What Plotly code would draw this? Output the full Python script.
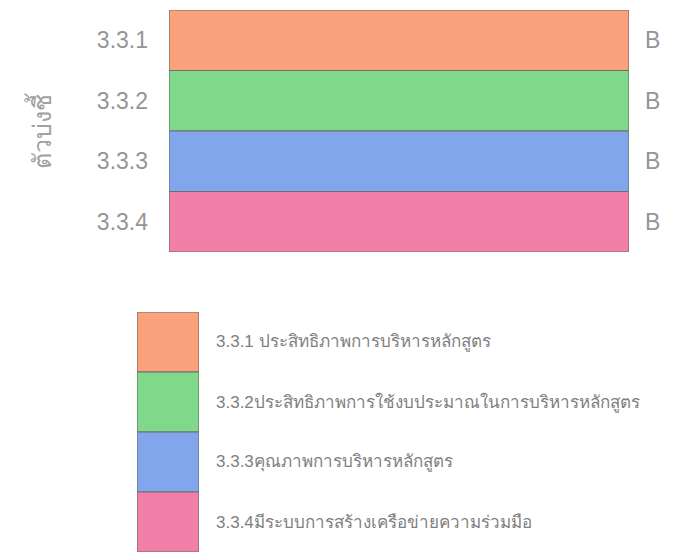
import plotly.graph_objects as go

categories = ["3.3.1", "3.3.2", "3.3.3", "3.3.4"]
values = [1, 1, 1, 1]
grades = ["B", "B", "B", "B"]
legend_labels = [
    "3.3.1 ประสิทธิภาพการบริหารหลักสูตร",
    "3.3.2ประสิทธิภาพการใช้งบประมาณในการบริหารหลักสูตร",
    "3.3.3คุณภาพการบริหารหลักสูตร",
    "3.3.4มีระบบการสร้างเครือข่ายความร่วมมือ",
]
colors = ["#FBA17C", "#80D98A", "#81A6EC", "#F27FA8"]
axis_title = "ตัวบ่งชี้"

OFF = 8  # page body margin
W, H = 685 - OFF, 556 - OFF
FONT = "Liberation Sans, Arial, Noto Sans, sans-serif"
GRAY = "#959595"


def px(v):
    return (v - OFF) / W


def py(v):
    return 1 - (v - OFF) / H


fig = go.Figure()

fig.add_trace(go.Bar(
    x=values, y=categories, orientation="h", width=1,
    marker=dict(color=colors, line=dict(color="#6e6e6e", width=1.2)),
    hoverinfo="skip", showlegend=False, xaxis="x", yaxis="y",
))

n = len(legend_labels)
fig.add_trace(go.Bar(
    x=[0] * n, y=[1] * n, base=list(range(n - 1, -1, -1)), width=1,
    marker=dict(color=colors, line=dict(color="#6e6e6e", width=1.2)),
    hoverinfo="skip", showlegend=False, xaxis="x2", yaxis="y2",
))

annotations = []
for c, g in zip(categories, grades):
    annotations.append(dict(x=px(643), xref="paper", y=c, yref="y", text=g,
                            showarrow=False, xanchor="left", yanchor="middle",
                            font=dict(family=FONT, size=23, color=GRAY)))
for i, lab in enumerate(legend_labels):
    annotations.append(dict(x=px(214), xref="paper", y=n - 1 - i + 0.5, yref="y2",
                            text=lab, showarrow=False, xanchor="left", yanchor="middle",
                            font=dict(family=FONT, size=17, color="#808080")))
annotations.append(dict(x=px(40), xref="paper", y=py(131), yref="paper", text=axis_title,
                        textangle=-90, showarrow=False, xanchor="center", yanchor="middle",
                        font=dict(family=FONT, size=25, color="#a0a0a0")))

fig.update_layout(
    width=W, height=H,
    margin=dict(l=0, r=0, t=0, b=0),
    paper_bgcolor="white", plot_bgcolor="white",
    barmode="overlay",
    xaxis=dict(domain=[px(169), px(629)], range=[0, 1], visible=False, fixedrange=True),
    yaxis=dict(domain=[py(252), py(10)], range=[3.5, -0.5],
               categoryorder="array", categoryarray=categories,
               showgrid=False, zeroline=False, showline=False, ticks="",
               tickfont=dict(family=FONT, size=23, color=GRAY), ticklabelstandoff=20),
    xaxis2=dict(domain=[px(137), px(199)], range=[-0.5, 0.5], visible=False, anchor="y2"),
    yaxis2=dict(domain=[py(552), py(312)], range=[0, n], visible=False, anchor="x2"),
    annotations=annotations,
)

fig.write_html("out.html")
